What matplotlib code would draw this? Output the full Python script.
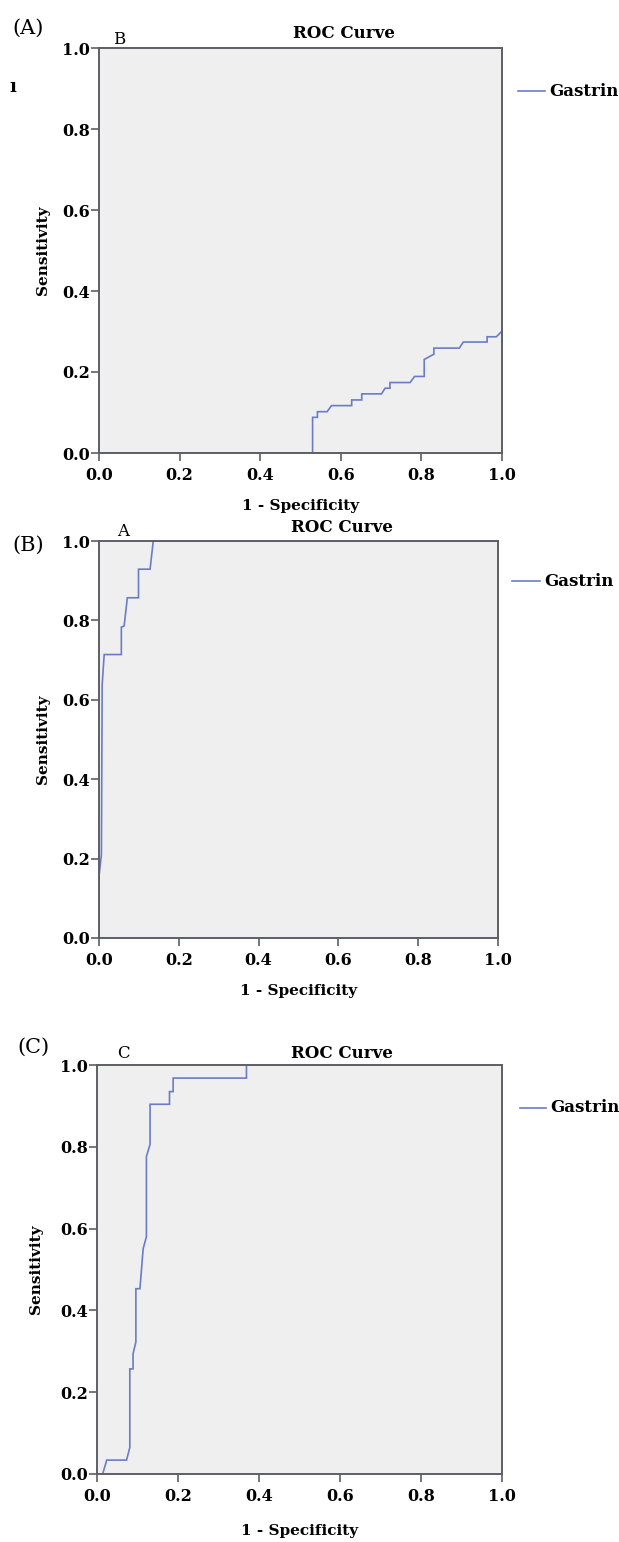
import matplotlib
matplotlib.use("Agg")
import matplotlib.pyplot as plt

# panel (A): ROC of Gastrin, inner letter "B"
fpr_a = [0, 0.530, 0.530, 0.542, 0.542, 0.566, 0.577, 0.627, 0.627, 0.652, 0.652,
         0.701, 0.710, 0.722, 0.722, 0.772, 0.783, 0.807, 0.807, 0.831, 0.831,
         0.894, 0.904, 0.963, 0.963, 0.986, 1.0]
tpr_a = [0, 0, 0.088, 0.088, 0.102, 0.102, 0.117, 0.117, 0.131, 0.131, 0.146,
         0.146, 0.160, 0.160, 0.174, 0.174, 0.189, 0.189, 0.231, 0.244, 0.259,
         0.259, 0.274, 0.274, 0.287, 0.287, 0.301]

# panel (B): inner letter "A"
fpr_b = [0, 0, 0.006, 0.008, 0.013, 0.056, 0.056, 0.063, 0.071, 0.099, 0.099,
         0.128, 0.136, 1.0]
tpr_b = [0, 0.155, 0.210, 0.639, 0.714, 0.714, 0.783, 0.786, 0.857, 0.857, 0.929,
         0.929, 1.0, 1.0]

# panel (C): inner letter "C"
fpr_c = [0, 0.014, 0.024, 0.073, 0.081, 0.081, 0.089, 0.089, 0.096, 0.096, 0.106,
         0.114, 0.122, 0.122, 0.131, 0.131, 0.179, 0.179, 0.188, 0.188, 0.369,
         0.369, 1.0]
tpr_c = [0, 0, 0.034, 0.034, 0.065, 0.257, 0.257, 0.294, 0.323, 0.453, 0.453,
         0.551, 0.580, 0.776, 0.806, 0.904, 0.904, 0.935, 0.935, 0.968, 0.968,
         1.0, 1.0]

ticks = [0.0, 0.2, 0.4, 0.6, 0.8, 1.0]
tick_labels = ["0.0", "0.2", "0.4", "0.6", "0.8", "1.0"]
panel_tags = ["(A)", "(B)", "(C)"]
inner_letters = ["B", "A", "C"]
series_name = "Gastrin"

W, H = 619, 1542
SERIF = ["DejaVu Serif"]
LINE_COLOR = "#6b7cc7"
SPINE_COLOR = "#5e5e66"


def px_box(left, top, right, bottom):
    return [left / W, 1 - bottom / H, (right - left) / W, (bottom - top) / H]


def fy(y):
    return 1 - y / H


fig = plt.figure(figsize=(W / 100, H / 100), dpi=100)

# pixel layout of each panel
layouts = [
    dict(box=(99, 48, 502, 453), tag=(28, 28), letter=(119, 40), title=(344, 34),
         leg_y=91, leg_x=(518, 545), ylab_x=43, xlab_y=506),
    dict(box=(99, 541, 498, 938), tag=(28, 545), letter=(123, 531), title=(342, 527),
         leg_y=581, leg_x=(512, 540), ylab_x=43, xlab_y=991),
    dict(box=(97, 1065, 502, 1474), tag=(33, 1047), letter=(123, 1054), title=(342, 1053),
         leg_y=1108, leg_x=(520, 546), ylab_x=36, xlab_y=1531),
]
curves = [(fpr_a, tpr_a), (fpr_b, tpr_b), (fpr_c, tpr_c)]

for i, (lay, (fx, ty)) in enumerate(zip(layouts, curves)):
    ax = fig.add_axes(px_box(*lay["box"]))
    ax.set_facecolor("#efefef")
    ax.plot(fx, ty, color=LINE_COLOR, lw=1.2, solid_joinstyle="miter")
    ax.set_xlim(0, 1)
    ax.set_ylim(0, 1)
    ax.set_xticks(ticks)
    ax.set_yticks(ticks)
    ax.set_xticklabels(tick_labels, family=SERIF, fontweight="bold", fontsize=11.5)
    ax.set_yticklabels(tick_labels, family=SERIF, fontweight="bold", fontsize=11.5)
    ax.tick_params(axis="both", direction="out", length=6, width=1.2,
                   color=SPINE_COLOR)
    ax.tick_params(axis="y", pad=0.5)
    ax.tick_params(axis="x", pad=4)
    for sp in ax.spines.values():
        sp.set_color(SPINE_COLOR)
        sp.set_linewidth(1.4)

    l, t, r, b = lay["box"]
    fig.text(lay["ylab_x"] / W, fy((t + b) / 2), "Sensitivity", rotation=90,
             ha="center", va="center", family=SERIF, fontweight="bold", fontsize=11)
    fig.text(((l + r) / 2) / W, fy(lay["xlab_y"]), "1 - Specificity",
             ha="center", va="center", family=SERIF, fontweight="bold", fontsize=11)
    fig.text(lay["title"][0] / W, fy(lay["title"][1]), "ROC Curve",
             ha="center", va="center", family=SERIF, fontweight="bold", fontsize=12)
    fig.text(lay["letter"][0] / W, fy(lay["letter"][1]), inner_letters[i],
             ha="center", va="center", family=SERIF, fontsize=12)
    fig.text(lay["tag"][0] / W, fy(lay["tag"][1]), panel_tags[i],
             ha="center", va="center", family=SERIF, fontsize=15)

    # legend entry
    x0, x1 = lay["leg_x"]
    fig.add_artist(plt.Line2D([x0 / W, x1 / W], [fy(lay["leg_y"])] * 2,
                              color=LINE_COLOR, lw=1.2))
    fig.text((x1 + 4) / W, fy(lay["leg_y"]), series_name, ha="left", va="center",
             family=SERIF, fontweight="bold", fontsize=12)

# small stray mark left of panel (A)
fig.text(13 / W, fy(87), "ı", ha="center", va="center", family=SERIF,
         fontweight="bold", fontsize=13)

fig.savefig("out.png", dpi=100)
